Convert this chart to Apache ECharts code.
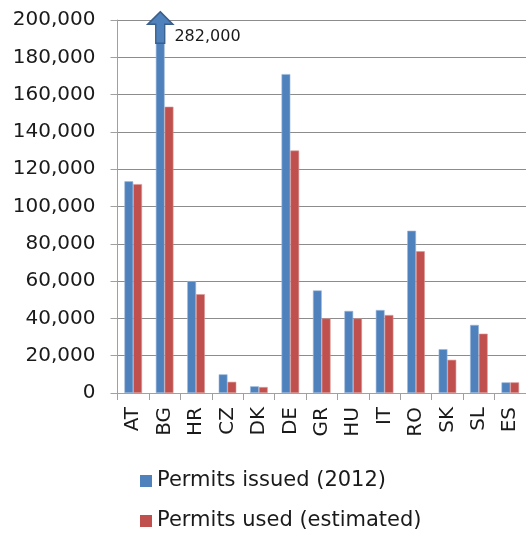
<!DOCTYPE html>
<html>
<head>
<meta charset="utf-8">
<style>html,body{margin:0;padding:0;background:#fff;}#c{width:526px;height:533px;}</style>
<script src="https://cdn.jsdelivr.net/npm/echarts@6/dist/echarts.min.js"></script>
</head>
<body>
<div id="c"></div>
<script>
const categories = ['AT','BG','HR','CZ','DK','DE','GR','HU','IT','RO','SK','SL','ES'];
const permitsIssued = [113500, 282000, 60000, 10000, 3600, 171000, 55000, 44000, 44500, 87000, 23500, 36500, 5700];
const permitsUsed = [112000, 153500, 53000, 6000, 3200, 130000, 40000, 40000, 41800, 76000, 17800, 31800, 5700];
const seriesNames = ['Permits issued (2012)', 'Permits used (estimated)'];
const yMin = 0, yMax = 200000, yStep = 20000;
const overflowCat = categories[1];

const font = 'DejaVu Sans, Verdana, sans-serif';
const fmt = v => Number(v).toLocaleString('en-US');
const legendBase = {
  left: 135, itemWidth: 12, itemHeight: 12, icon: 'rect',
  itemStyle: {borderWidth: 0},
  textStyle: {fontFamily: font, fontSize: 21, color: '#1a1a1a', lineHeight: 24}
};
const chart = echarts.init(document.getElementById('c'), null, {renderer: 'canvas'});
chart.setOption({
  animation: false,
  grid: {left: 117.5, right: -2.5, top: 20, bottom: 140, containLabel: false},
  legend: [
    Object.assign({}, legendBase, {top: 464, data: [seriesNames[0]]}),
    Object.assign({}, legendBase, {top: 504, data: [seriesNames[1]]})
  ],
  xAxis: {
    type: 'category', data: categories,
    axisLine: {lineStyle: {color: '#a0a0a0', width: 1}},
    axisTick: {show: true, length: 7, lineStyle: {color: '#a0a0a0'}},
    axisLabel: {rotate: 90, margin: 14, fontFamily: font, fontSize: 20, color: '#1a1a1a'}
  },
  yAxis: {
    type: 'value', min: yMin, max: yMax, interval: yStep,
    axisLine: {show: true, lineStyle: {color: '#a0a0a0'}},
    axisTick: {show: true, length: 7, lineStyle: {color: '#a0a0a0'}},
    splitLine: {lineStyle: {color: '#8c8c8c', width: 1}},
    axisLabel: {margin: 22, fontFamily: font, fontSize: 20, color: '#1a1a1a', formatter: fmt}
  },
  series: [
    {
      name: seriesNames[0], type: 'bar', data: permitsIssued,
      barGap: '0%', barCategoryGap: '44%', clip: true,
      itemStyle: {color: '#4F81BD', borderColor: '#9db8da', borderWidth: 0.6},
      markPoint: {
        symbol: 'path://M12.5,0 L25,12.5 L17,12.5 L17,31.5 L8,31.5 L8,12.5 L0,12.5 Z',
        symbolSize: [25, 31.5],
        symbolOffset: [0, 7.5],
        itemStyle: {color: '#4F81BD', borderColor: '#3a5f8c', borderWidth: 1.5},
        label: {
          show: true, position: 'right', distance: 1, offset: [0, 9.5],
          fontFamily: font, fontSize: 16, color: '#1a1a1a',
          formatter: p => fmt(p.value)
        },
        data: [{coord: [overflowCat, yMax], value: permitsIssued[categories.indexOf(overflowCat)]}]
      }
    },
    {
      name: seriesNames[1], type: 'bar', data: permitsUsed,
      barGap: '0%', barCategoryGap: '44%',
      itemStyle: {color: '#C0504D', borderColor: '#d99795', borderWidth: 0.6}
    }
  ]
});
</script>
</body>
</html>
